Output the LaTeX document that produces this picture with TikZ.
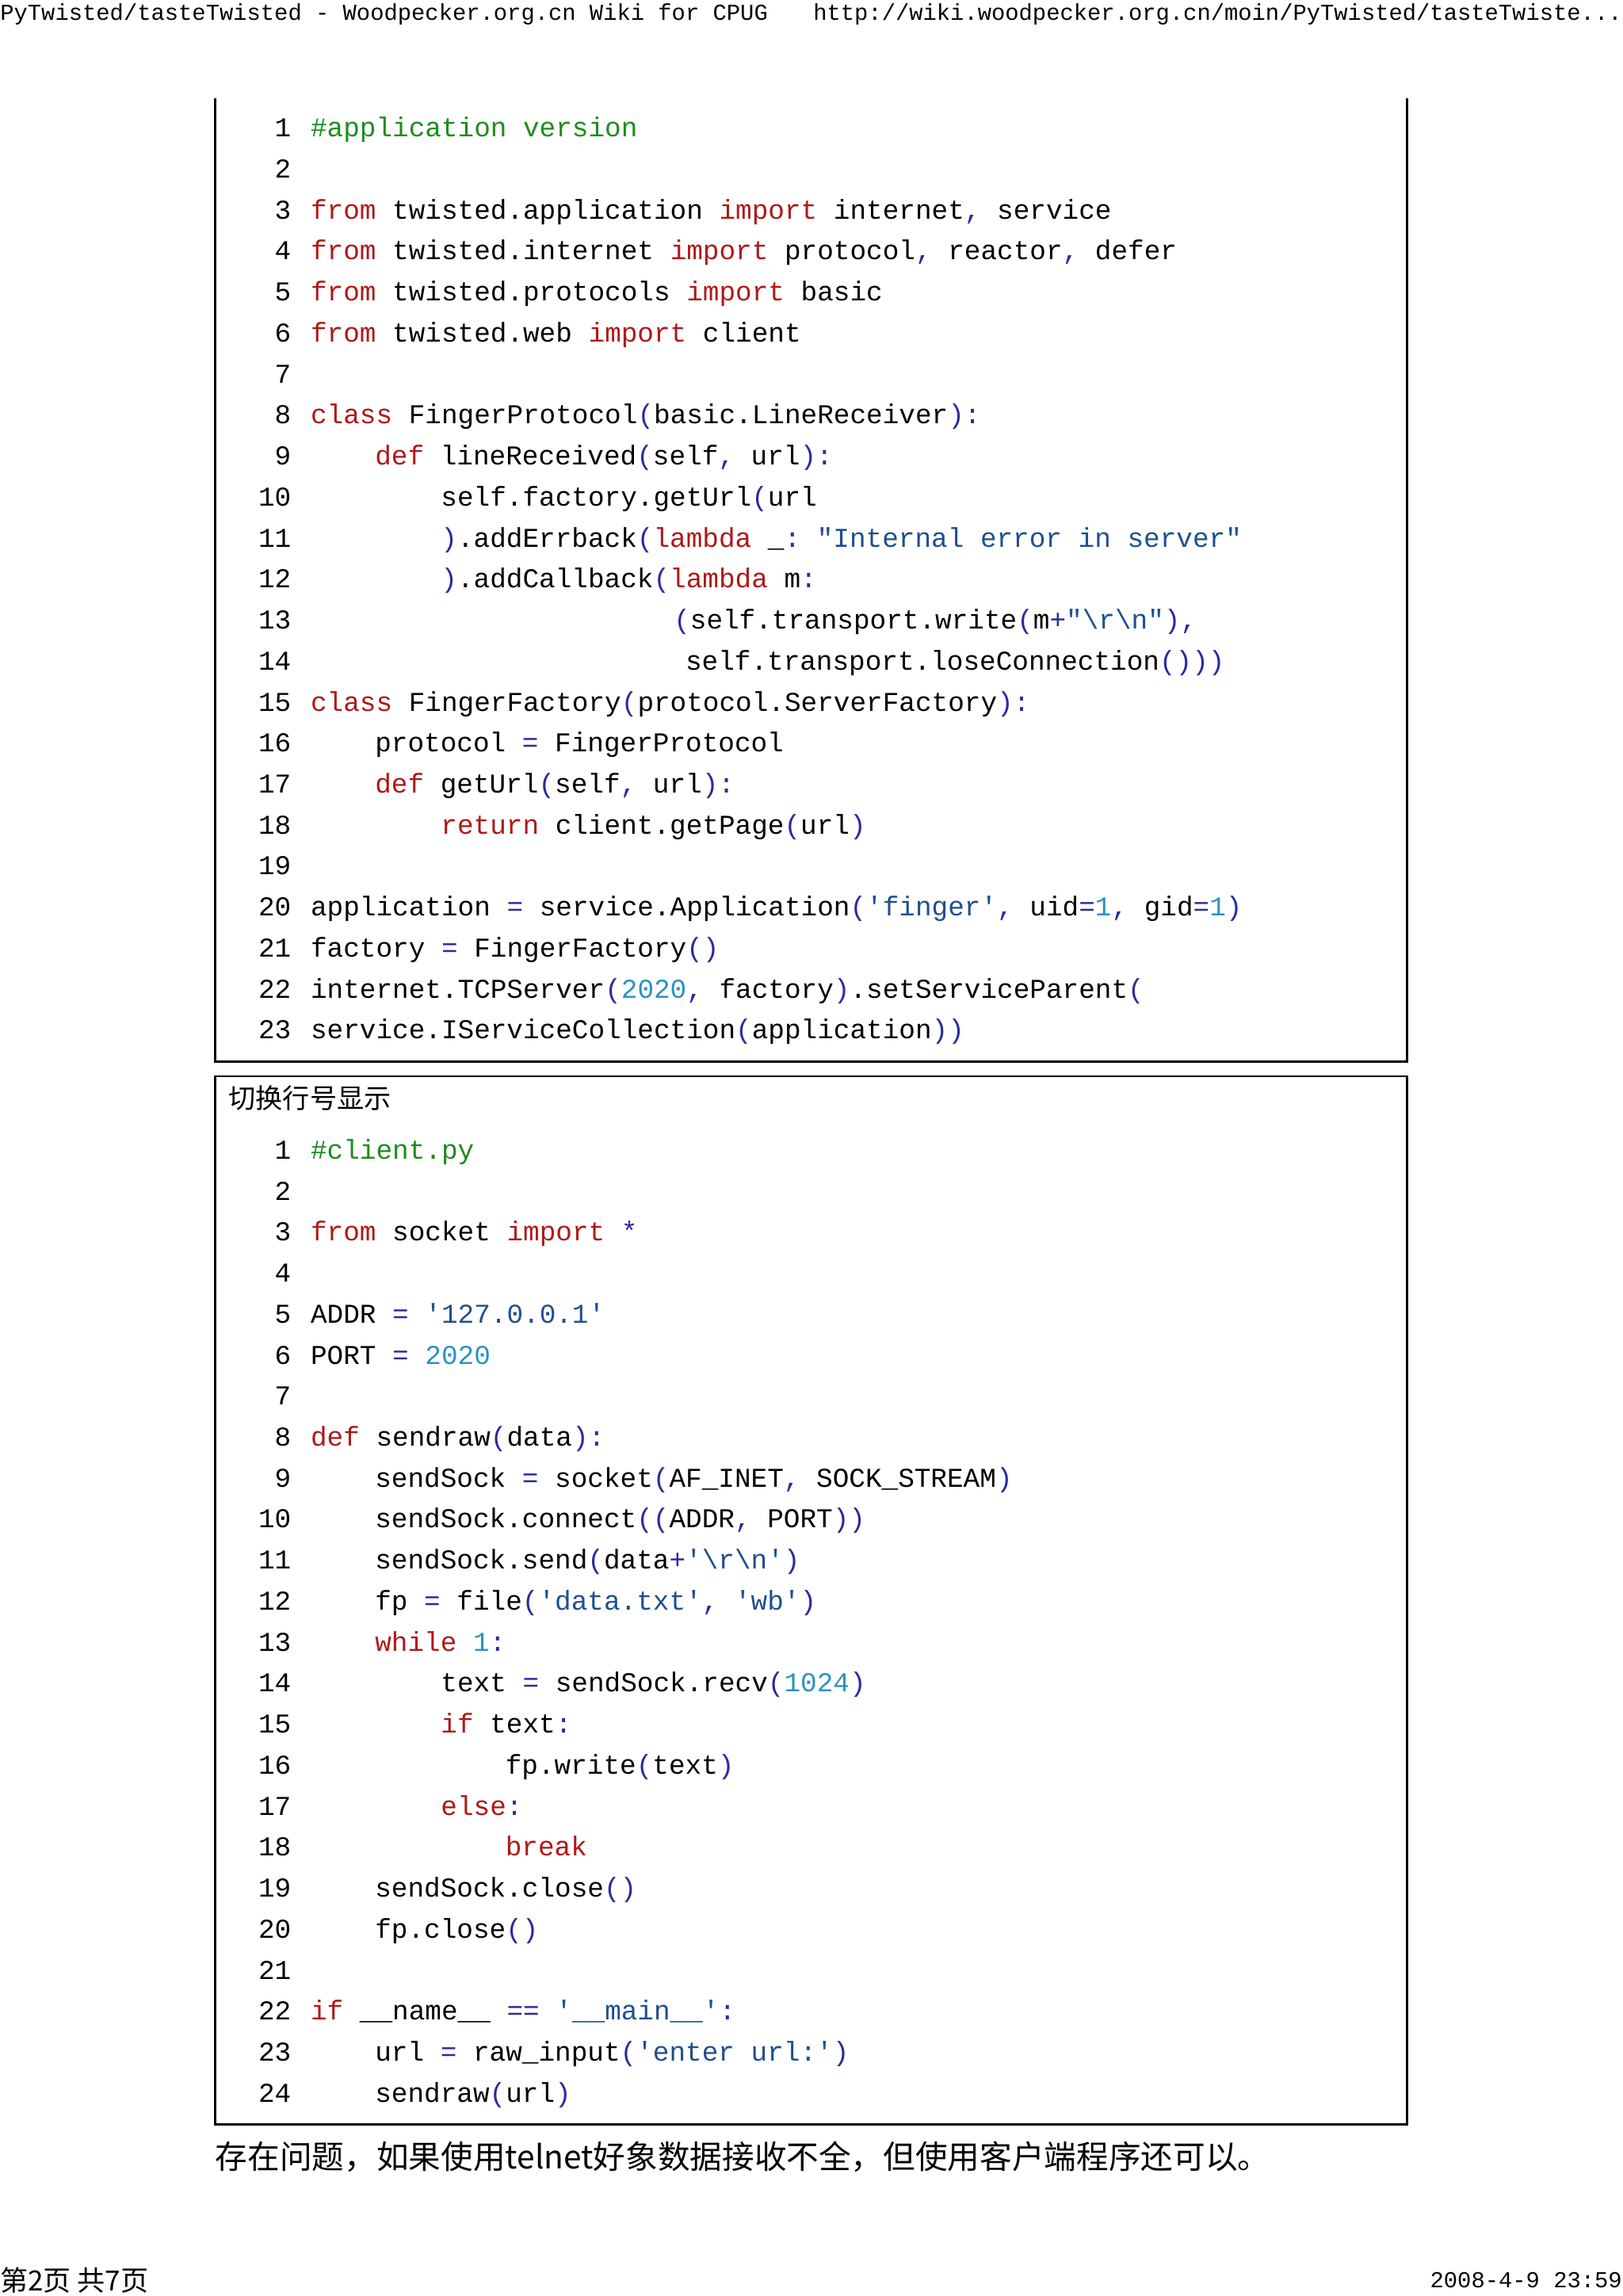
\documentclass[tikz,border=0pt]{standalone}
\usepackage{fontspec}
\setmonofont{Liberation Mono}
\newfontfamily\cjk{Noto Sans CJK SC}
\usepackage{xcolor}
\definecolor{kwc}{HTML}{B01818}
\definecolor{stc}{HTML}{1F4F8F}
\definecolor{nuc}{HTML}{2A93C0}
\definecolor{cmc}{HTML}{1E8C1E}
\definecolor{puc}{HTML}{2A2AA0}
\newcommand\kwd[1]{\textcolor{kwc}{#1}}
\newcommand\str[1]{\textcolor{stc}{#1}}
\newcommand\num[1]{\textcolor{nuc}{#1}}
\newcommand\cmt[1]{\textcolor{cmc}{#1}}
\newcommand\pun[1]{\textcolor{puc}{#1}}
\newcommand\bs{\textbackslash}
\tikzset{code/.style={font=\ttfamily\fontsize{18.6}{20}\selectfont,inner sep=0pt},
  frame/.style={line width=1.6pt,draw=black}}
% #1 y of line 1 center, #2 line number, #3 x start, #4 text
\newcommand\cl[4]{%
  \pgfmathsetmacro\yy{#1+28*(#2-1)+5.5}%
  \node[code,anchor=base east] at (199,\yy) {#2};
  \node[code,anchor=base west] at (#3,\yy) {#4};}
\newcommand\el[2]{%
  \pgfmathsetmacro\yy{#1+28*(#2-1)+5.5}%
  \node[code,anchor=base east] at (199,\yy) {#2};}
\begin{document}
\begin{tikzpicture}[x=1pt,y=-1pt]
\useasboundingbox[fill=white] (0,0) rectangle (1108,1568);
\node[font=\ttfamily\fontsize{15.6}{16}\selectfont,anchor=west,inner sep=0pt] (hl) at (0,10) {PyTwisted/tasteTwisted - Woodpecker.org.cn Wiki for CPUG};
\node[font=\ttfamily\fontsize{15.6}{16}\selectfont,anchor=east,inner sep=0pt] (hr) at (1108,10) {http://wiki.woodpecker.org.cn/moin/PyTwisted/tasteTwiste...};
% box 1
\draw[frame] (147,67) -- (147,725) -- (961,725) -- (961,67);
\def\A{88}
\cl{\A}{1}{212}{\cmt{\#application version}}
\el{\A}{2}
\cl{\A}{3}{212}{\kwd{from} twisted.application \kwd{import} internet\pun{,} service}
\cl{\A}{4}{212}{\kwd{from} twisted.internet \kwd{import} protocol\pun{,} reactor\pun{,} defer}
\cl{\A}{5}{212}{\kwd{from} twisted.protocols \kwd{import} basic}
\cl{\A}{6}{212}{\kwd{from} twisted.web \kwd{import} client}
\el{\A}{7}
\cl{\A}{8}{212}{\kwd{class} FingerProtocol\pun{(}basic.LineReceiver\pun{):}}
\cl{\A}{9}{256}{\kwd{def} lineReceived\pun{(}self\pun{,} url\pun{):}}
\cl{\A}{10}{301}{self.factory.getUrl\pun{(}url}
\cl{\A}{11}{301}{\pun{)}.addErrback\pun{(}\kwd{lambda} \_\pun{:} \str{"Internal error in server"}}
\cl{\A}{12}{301}{\pun{)}.addCallback\pun{(}\kwd{lambda} m\pun{:}}
\cl{\A}{13}{460}{\pun{(}self.transport.write\pun{(}m\pun{+}\str{"\bs r\bs n"}\pun{),}}
\cl{\A}{14}{468}{self.transport.loseConnection\pun{()))}}
\cl{\A}{15}{212}{\kwd{class} FingerFactory\pun{(}protocol.ServerFactory\pun{):}}
\cl{\A}{16}{256}{protocol \pun{=} FingerProtocol}
\cl{\A}{17}{256}{\kwd{def} getUrl\pun{(}self\pun{,} url\pun{):}}
\cl{\A}{18}{301}{\kwd{return} client.getPage\pun{(}url\pun{)}}
\el{\A}{19}
\cl{\A}{20}{212}{application \pun{=} service.Application\pun{(}\str{'finger'}\pun{,} uid\pun{=}\num{1}\pun{,} gid\pun{=}\num{1}\pun{)}}
\cl{\A}{21}{212}{factory \pun{=} FingerFactory\pun{()}}
\cl{\A}{22}{212}{internet.TCPServer\pun{(}\num{2020}\pun{,} factory\pun{)}.setServiceParent\pun{(}}
\cl{\A}{23}{212}{service.IServiceCollection\pun{(}application\pun{))}}
% box 2
\draw[frame] (147,735) rectangle (961,1451);
\node[font=\cjk\fontsize{18.5}{20}\selectfont,anchor=west,inner sep=0pt] (tg) at (156,750) {切换行号显示};
\def\B{786}
\cl{\B}{1}{212}{\cmt{\#client.py}}
\el{\B}{2}
\cl{\B}{3}{212}{\kwd{from} socket \kwd{import} \pun{*}}
\el{\B}{4}
\cl{\B}{5}{212}{ADDR \pun{=} \str{'127.0.0.1'}}
\cl{\B}{6}{212}{PORT \pun{=} \num{2020}}
\el{\B}{7}
\cl{\B}{8}{212}{\kwd{def} sendraw\pun{(}data\pun{):}}
\cl{\B}{9}{256}{sendSock \pun{=} socket\pun{(}AF\_INET\pun{,} SOCK\_STREAM\pun{)}}
\cl{\B}{10}{256}{sendSock.connect\pun{((}ADDR\pun{,} PORT\pun{))}}
\cl{\B}{11}{256}{sendSock.send\pun{(}data\pun{+}\str{'\bs r\bs n'}\pun{)}}
\cl{\B}{12}{256}{fp \pun{=} file\pun{(}\str{'data.txt'}\pun{,} \str{'wb'}\pun{)}}
\cl{\B}{13}{256}{\kwd{while} \num{1}\pun{:}}
\cl{\B}{14}{301}{text \pun{=} sendSock.recv\pun{(}\num{1024}\pun{)}}
\cl{\B}{15}{301}{\kwd{if} text\pun{:}}
\cl{\B}{16}{345}{fp.write\pun{(}text\pun{)}}
\cl{\B}{17}{301}{\kwd{else}\pun{:}}
\cl{\B}{18}{345}{\kwd{break}}
\cl{\B}{19}{256}{sendSock.close\pun{()}}
\cl{\B}{20}{256}{fp.close\pun{()}}
\el{\B}{21}
\cl{\B}{22}{212}{\kwd{if} \_\_name\_\_ \pun{==} \str{'\_\_main\_\_'}\pun{:}}
\cl{\B}{23}{256}{url \pun{=} raw\_input\pun{(}\str{'enter url:'}\pun{)}}
\cl{\B}{24}{256}{sendraw\pun{(}url\pun{)}}
% bottom text
\node[font=\cjk\fontsize{22}{24}\selectfont,anchor=west,inner sep=0pt] (bt) at (147,1473) {存在问题，如果使用telnet好象数据接收不全，但使用客户端程序还可以。};
\node[font=\cjk\fontsize{19}{20}\selectfont,anchor=west,inner sep=0pt] (fl) at (0,1557) {第2页 共7页};
\node[font=\ttfamily\fontsize{15.6}{17}\selectfont,anchor=east,inner sep=0pt] (fr) at (1108,1557) {2008-4-9 23:59};
\end{tikzpicture}
\end{document}
